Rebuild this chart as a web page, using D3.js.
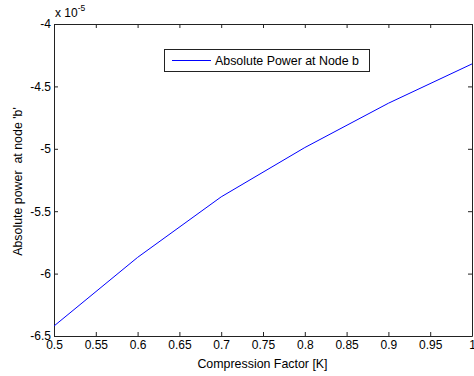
<!DOCTYPE html>
<html>
<head>
<meta charset="utf-8">
<script src="https://cdn.jsdelivr.net/npm/d3@7"></script>
<style>
  html, body { margin: 0; padding: 0; background: #fff; }
  svg text { font-family: "Liberation Sans", Arial, sans-serif; fill: #000; }
</style>
</head>
<body>
<svg id="chart" width="474" height="376"></svg>
<script>
// Compression factor K and absolute power at node b (in units of 1e-5)
const kValues = [0.5, 0.6, 0.7, 0.8, 0.9, 1.0];
const powerValues = [-6.42, -5.87, -5.385, -4.99, -4.635, -4.32];
const xTicks = [0.5, 0.55, 0.6, 0.65, 0.7, 0.75, 0.8, 0.85, 0.9, 0.95, 1];
const yTicks = [-6.5, -6, -5.5, -5, -4.5, -4];
const seriesName = "Absolute Power at Node b";

const svg = d3.select("#chart");
const plotLeft = 54, plotRight = 472, plotTop = 24, plotBottom = 336;

const x = d3.scaleLinear().domain([0.5, 1]).range([plotLeft, plotRight]);
const y = d3.scaleLinear().domain([-6.5, -4]).range([plotBottom, plotTop]);

const fmt = d => String(+d.toFixed(2));
const tickLen = 4;
const tickFont = 12;
const labelFont = 12.4;

// Bottom axis with labels, inward ticks
const gx = svg.append("g").attr("transform", `translate(0,${plotBottom})`)
  .call(d3.axisBottom(x).tickValues(xTicks).tickFormat(fmt).tickSizeInner(-tickLen).tickSizeOuter(0).tickPadding(4));
// Top axis, ticks only
const gxt = svg.append("g").attr("transform", `translate(0,${plotTop})`)
  .call(d3.axisTop(x).tickValues(xTicks).tickFormat("").tickSizeInner(-tickLen).tickSizeOuter(0));
// Left axis with labels
const gy = svg.append("g").attr("transform", `translate(${plotLeft},0)`)
  .call(d3.axisLeft(y).tickValues(yTicks).tickFormat(fmt).tickSizeInner(-tickLen).tickSizeOuter(0).tickPadding(3));
// Right axis, ticks only
const gyr = svg.append("g").attr("transform", `translate(${plotRight},0)`)
  .call(d3.axisRight(y).tickValues(yTicks).tickFormat("").tickSizeInner(-tickLen).tickSizeOuter(0));

[gx, gxt, gy, gyr].forEach(g => {
  g.select(".domain").attr("stroke", "#222").attr("stroke-width", 1);
  g.selectAll(".tick line").attr("stroke", "#222");
  g.selectAll("text").attr("font-size", tickFont).attr("fill", "#000")
    .style("font-family", "'Liberation Sans', Arial, sans-serif");
});

// Data line
const line = d3.line().x((d, i) => x(kValues[i])).y(d => y(d));
svg.append("path").datum(powerValues)
  .attr("d", line)
  .attr("fill", "none")
  .attr("stroke", "#0000ff")
  .attr("stroke-width", 1);

// Exponent label
const expo = svg.append("text").attr("x", 55).attr("y", 17).attr("font-size", tickFont);
expo.append("tspan").text("x 10");
expo.append("tspan").attr("dy", -6).attr("font-size", 8.5).text("-5");

// Axis titles
svg.append("text").attr("x", 262.5).attr("y", 368)
  .attr("text-anchor", "middle").attr("font-size", labelFont).text("Compression Factor [K]");
svg.append("text")
  .attr("transform", `translate(22,181.5) rotate(-90)`)
  .attr("text-anchor", "middle").attr("font-size", labelFont)
  .style("white-space", "pre")
  .text("Absolute power  at node 'b'");

// Legend
const lg = svg.append("g");
lg.append("rect").attr("x", 164.5).attr("y", 49.5).attr("width", 205).attr("height", 22)
  .attr("fill", "#fff").attr("stroke", "#222").attr("stroke-width", 1);
lg.append("line").attr("x1", 172).attr("x2", 211).attr("y1", 60.5).attr("y2", 60.5)
  .attr("stroke", "#0000ff").attr("stroke-width", 1);
lg.append("text").attr("x", 215).attr("y", 65).attr("font-size", labelFont).text(seriesName);
</script>
</body>
</html>
